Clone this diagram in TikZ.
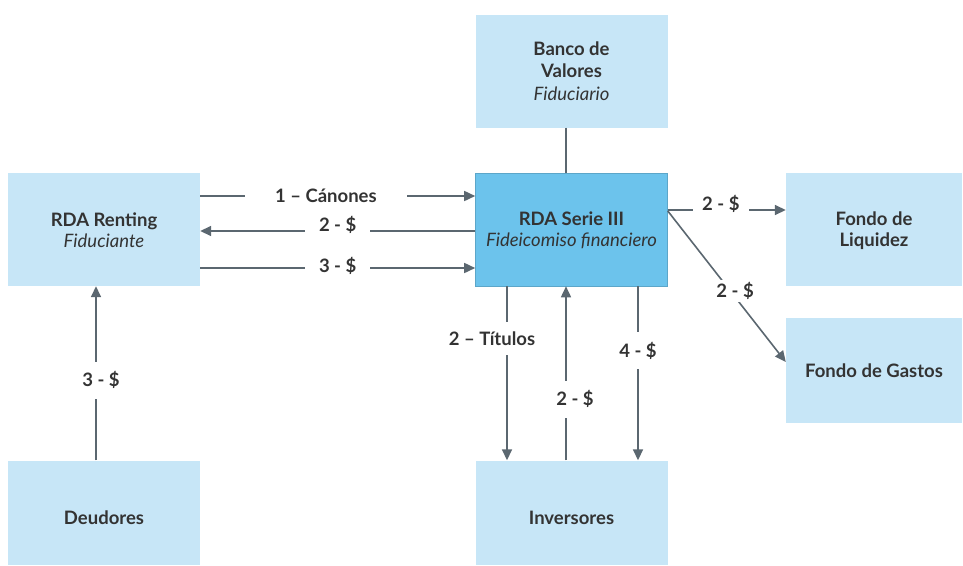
\documentclass[tikz,border=0pt]{standalone}
\usepackage{fontspec}
\setmainfont{Lato}
\usetikzlibrary{arrows.meta}
\definecolor{boxblue}{HTML}{C7E6F7}
\definecolor{mainblue}{HTML}{6CC3EC}
\definecolor{flowgray}{HTML}{5B6770}
\definecolor{txtgray}{HTML}{333333}
\tikzset{
  box/.style={rectangle, fill=boxblue, minimum width=192pt, minimum height=113pt, align=center, text=txtgray, font=\fontsize{18.5}{22.5}\selectfont\bfseries, inner sep=0pt},
  mainbox/.style={box, fill=mainblue, draw=mainblue!85!black, line width=0.6pt},
  flow/.style={draw=flowgray, line width=1.6pt, -{Triangle[length=11pt,width=10pt]}},
  plain/.style={draw=flowgray, line width=1.6pt},
  lbl/.style={fill=white, text=txtgray, font=\fontsize{18.5}{22.5}\selectfont\bfseries, inner xsep=9pt, inner ysep=2pt}
}
\newcommand\lowtext[2]{\raisebox{-#1}[\height][\depth]{#2}}
\begin{document}
\begin{tikzpicture}[x=1pt,y=-1pt]
\useasboundingbox (0,0) rectangle (963,565);
\node[box] (banco) at (571.5,71){Banco de\\Valores\\{\normalfont\itshape Fiduciario}};
\node[box] (renting) at (104,229.5){\lowtext{1.5pt}{RDA Renting}\\{\normalfont\itshape Fiduciante}};
\node[mainbox] (serie) at (571.5,229.5){\lowtext{1.5pt}{RDA Serie III}\\{\normalfont\itshape Fideicomiso financiero}};
\node[box, minimum width=176pt] (liquidez) at (874,229.5){\lowtext{2pt}{Fondo de}\\Liquidez};
\node[box, minimum width=176pt, minimum height=105pt] (gastos) at (874,370.5){Fondo de Gastos};
\node[box, minimum height=104pt] (deudores) at (104,512.5){\lowtext{5.5pt}{Deudores}};
\node[box, minimum height=104pt] (inversores) at (571.5,512.5){\lowtext{5.5pt}{Inversores}};
\draw[plain]([xshift=-5.5pt]banco.south) -- ([xshift=-5.5pt]serie.north);
\draw[flow]([yshift=33.5pt]renting.east) -- node[lbl, pos=0.457, inner xsep=30pt]{1 -- Cánones} ([yshift=33.5pt]serie.west);
\draw[flow]([yshift=-1.5pt]serie.west) -- node[lbl, yshift=6pt, inner xsep=14pt]{2 - \$} ([yshift=-1.5pt]renting.east);
\draw[flow]([yshift=-38.5pt]renting.east) -- node[lbl, yshift=2pt, inner xsep=14pt]{3 - \$} ([yshift=-38.5pt]serie.west);
\draw[flow]([yshift=19.5pt]serie.east) -- node[lbl, pos=0.45, yshift=6pt]{2 - \$} ([yshift=19.5pt]serie.east -| liquidez.west);
\draw[flow]([yshift=18.5pt]serie.east) -- node[lbl, pos=0.57, yshift=6pt]{2 - \$} ([yshift=8.5pt]gastos.west);
\draw[flow]([xshift=-64.5pt]serie.south) -- node[lbl, pos=0.3, xshift=-15pt, inner ysep=10pt]{2 -- Títulos} ([xshift=-64.5pt]inversores.north);
\draw[flow]([xshift=-5.5pt]inversores.north) -- node[lbl, pos=0.35, xshift=9pt, inner ysep=10pt]{2 - \$} ([xshift=-5.5pt]serie.south);
\draw[flow]([xshift=66.5pt]serie.south) -- node[lbl, pos=0.37, inner ysep=10pt]{4 - \$} ([xshift=66.5pt]inversores.north);
\draw[flow]([xshift=-8pt]deudores.north) -- node[lbl, pos=0.46, xshift=5pt, inner ysep=10pt]{3 - \$} ([xshift=-8pt]renting.south);
\end{tikzpicture}
\end{document}
